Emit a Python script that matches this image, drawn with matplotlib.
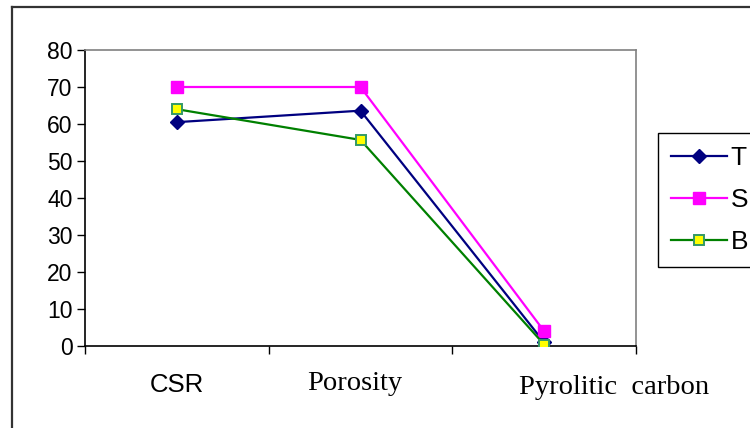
import matplotlib
matplotlib.use("Agg")
import matplotlib.pyplot as plt
from matplotlib.lines import Line2D

categories = ["CSR", "Porosity", "Pyrolitic  carbon"]
series_names = ["T", "S", "B"]
t_values = [60.5, 63.6, 1.0]
s_values = [70.0, 70.0, 4.0]
b_values = [64.0, 55.7, 0.4]
y_ticks = [0, 10, 20, 30, 40, 50, 60, 70, 80]

fig = plt.figure(figsize=(7.5, 4.28), dpi=100)
fig.patch.set_facecolor("white")

# outer chart frame (only left and top edges are inside the canvas)
fig.add_artist(Line2D([12 / 750, 12 / 750], [0, 1 - 7 / 428], transform=fig.transFigure,
                      color="#333333", lw=1.6))
fig.add_artist(Line2D([12 / 750, 1], [1 - 7 / 428, 1 - 7 / 428], transform=fig.transFigure,
                      color="#333333", lw=1.6))

ax = fig.add_axes([85 / 750, 1 - 346 / 428, (636 - 85) / 750, (346 - 50) / 428])
x = list(range(len(categories)))

ax.plot(x, t_values, color="#000080", lw=1.6, marker="D", ms=7,
        mfc="#000080", mec="#000080", label=series_names[0], zorder=3)
ax.plot(x, s_values, color="#FF00FF", lw=1.6, marker="s", ms=8.3,
        mfc="#FF00FF", mec="#FF00FF", label=series_names[1], zorder=3)
ax.plot(x, b_values, color="#008000", lw=1.6, marker="s", ms=7.8,
        mfc="#FFFF00", mec="#339966", mew=1.4, label=series_names[2], zorder=4)

ax.set_xlim(-0.5, len(categories) - 0.5)
ax.set_ylim(0, 80)
ax.set_yticks(y_ticks)
ax.set_yticklabels([str(v) for v in y_ticks], fontsize=16.5, family="Liberation Sans")
ax.tick_params(axis="y", direction="out", length=6, width=1, pad=3, color="black")

# category separators as x ticks
ax.set_xticks([i - 0.5 for i in range(len(categories) + 1)])
ax.set_xticklabels([])
ax.tick_params(axis="x", direction="out", length=6, width=1, color="black")

for side in ("left", "bottom"):
    ax.spines[side].set_color("black")
    ax.spines[side].set_linewidth(1.2)
for side in ("top", "right"):
    ax.spines[side].set_color("#808080")
    ax.spines[side].set_linewidth(1.2)

# category labels
trans = ax.get_xaxis_transform()
label_specs = [
    (categories[0], 0.0, -0.155, "Liberation Sans", 18.5),
    (categories[1], -0.03, -0.148, "Liberation Serif", 20.5),
    (categories[2], 0.38, -0.162, "Liberation Serif", 20.5),
]
for text, dx, yy, fam, fs in label_specs:
    idx = categories.index(text)
    ax.text(idx + dx, yy, text, transform=trans, ha="center", va="baseline",
            fontsize=fs, family=fam)

leg = fig.legend(handles=ax.get_lines(), labels=series_names,
                 loc="upper left", bbox_to_anchor=(658 / 750, 1 - 133 / 428),
                 frameon=True, fancybox=False, edgecolor="black", framealpha=1,
                 prop={"family": "Liberation Sans", "size": 19},
                 handlelength=2.1, handletextpad=0.15, labelspacing=0.68,
                 borderpad=0.5, borderaxespad=0)
leg.get_frame().set_linewidth(1.0)

fig.savefig("out.png", dpi=100)
